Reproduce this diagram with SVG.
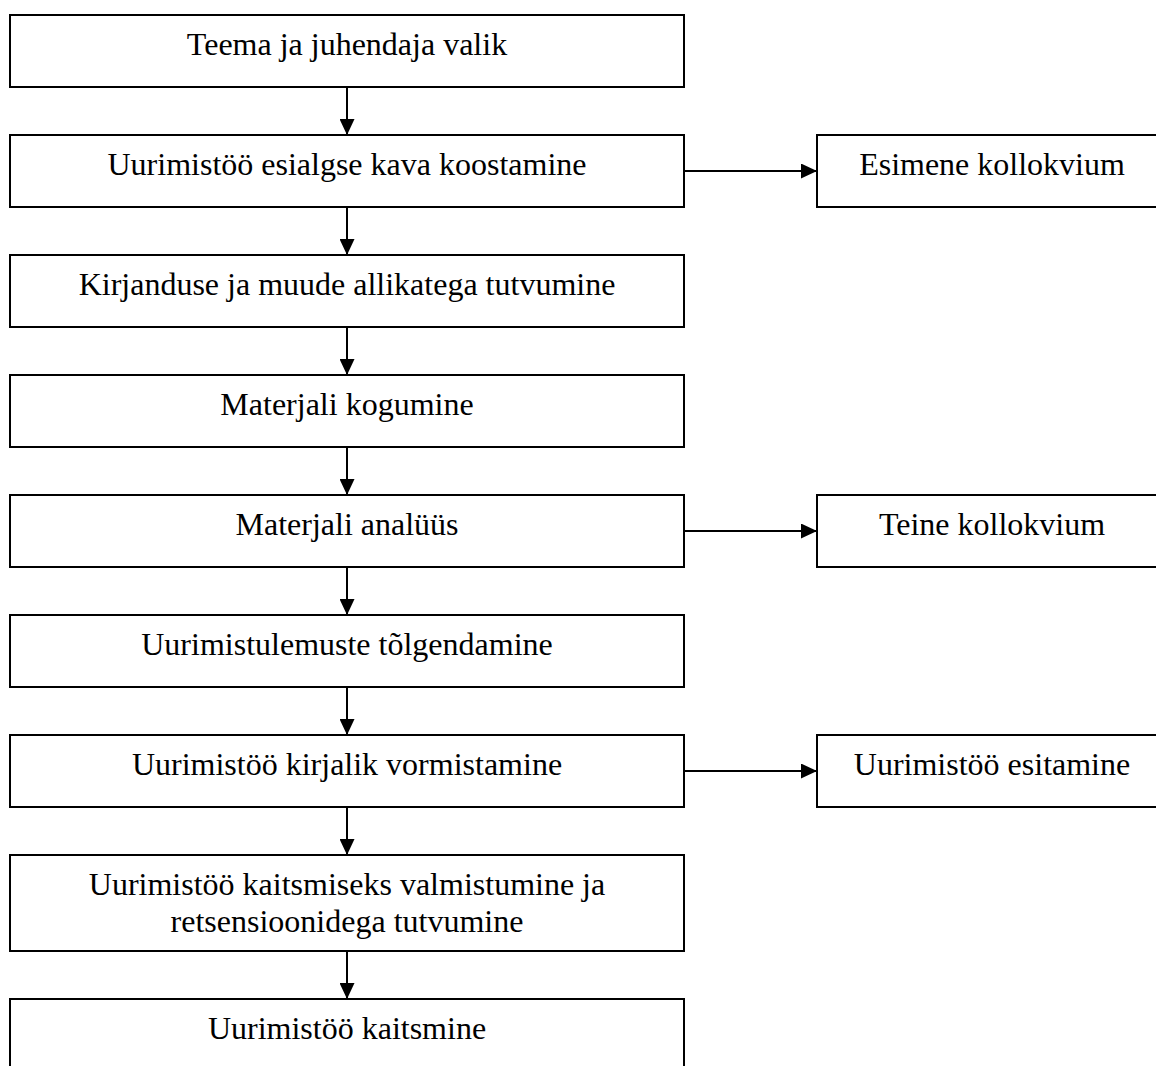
<svg xmlns="http://www.w3.org/2000/svg" width="1156" height="1066" viewBox="0 0 1156 1066">
<style>
rect{fill:#fff;stroke:#000;stroke-width:2}
text{font-family:"Liberation Serif","Times New Roman",serif;font-size:32px;fill:#000;text-anchor:middle}
.c{stroke:#000;stroke-width:2;fill:none}
</style>
<defs>
<marker id="ah" markerUnits="userSpaceOnUse" markerWidth="16" markerHeight="15" refX="16" refY="7.5" orient="auto">
<path d="M0,0 L16,7.5 L0,15 z" fill="#000"/>
</marker>
</defs>
<g id="n1"><rect x="10" y="15" width="674" height="72"/><text x="347" y="55">Teema ja juhendaja valik</text></g>
<g id="n2"><rect x="10" y="135" width="674" height="72"/><text x="347" y="175">Uurimistöö esialgse kava koostamine</text></g>
<g id="n3"><rect x="10" y="255" width="674" height="72"/><text x="347" y="295">Kirjanduse ja muude allikatega tutvumine</text></g>
<g id="n4"><rect x="10" y="375" width="674" height="72"/><text x="347" y="415">Materjali kogumine</text></g>
<g id="n5"><rect x="10" y="495" width="674" height="72"/><text x="347" y="535">Materjali analüüs</text></g>
<g id="n6"><rect x="10" y="615" width="674" height="72"/><text x="347" y="655">Uurimistulemuste tõlgendamine</text></g>
<g id="n7"><rect x="10" y="735" width="674" height="72"/><text x="347" y="775">Uurimistöö kirjalik vormistamine</text></g>
<g id="n8"><rect x="10" y="855" width="674" height="96"/><text x="347" y="895">Uurimistöö kaitsmiseks valmistumine ja</text><text x="347" y="932">retsensioonidega tutvumine</text></g>
<g id="n9"><rect x="10" y="999" width="674" height="90"/><text x="347" y="1039">Uurimistöö kaitsmine</text></g>
<g id="r1"><rect x="817" y="135" width="350" height="72"/><text x="992" y="175">Esimene kollokvium</text></g>
<g id="r2"><rect x="817" y="495" width="350" height="72"/><text x="992" y="535">Teine kollokvium</text></g>
<g id="r3"><rect x="817" y="735" width="350" height="72"/><text x="992" y="775">Uurimistöö esitamine</text></g>
<g id="connectors">
<line class="c" x1="347" y1="87" x2="347" y2="135" marker-end="url(#ah)"/>
<line class="c" x1="347" y1="207" x2="347" y2="255" marker-end="url(#ah)"/>
<line class="c" x1="347" y1="327" x2="347" y2="375" marker-end="url(#ah)"/>
<line class="c" x1="347" y1="447" x2="347" y2="495" marker-end="url(#ah)"/>
<line class="c" x1="347" y1="567" x2="347" y2="615" marker-end="url(#ah)"/>
<line class="c" x1="347" y1="687" x2="347" y2="735" marker-end="url(#ah)"/>
<line class="c" x1="347" y1="807" x2="347" y2="855" marker-end="url(#ah)"/>
<line class="c" x1="347" y1="951" x2="347" y2="999" marker-end="url(#ah)"/>
<line class="c" x1="684" y1="171" x2="817" y2="171" marker-end="url(#ah)"/>
<line class="c" x1="684" y1="531" x2="817" y2="531" marker-end="url(#ah)"/>
<line class="c" x1="684" y1="771" x2="817" y2="771" marker-end="url(#ah)"/>
</g>
</svg>
